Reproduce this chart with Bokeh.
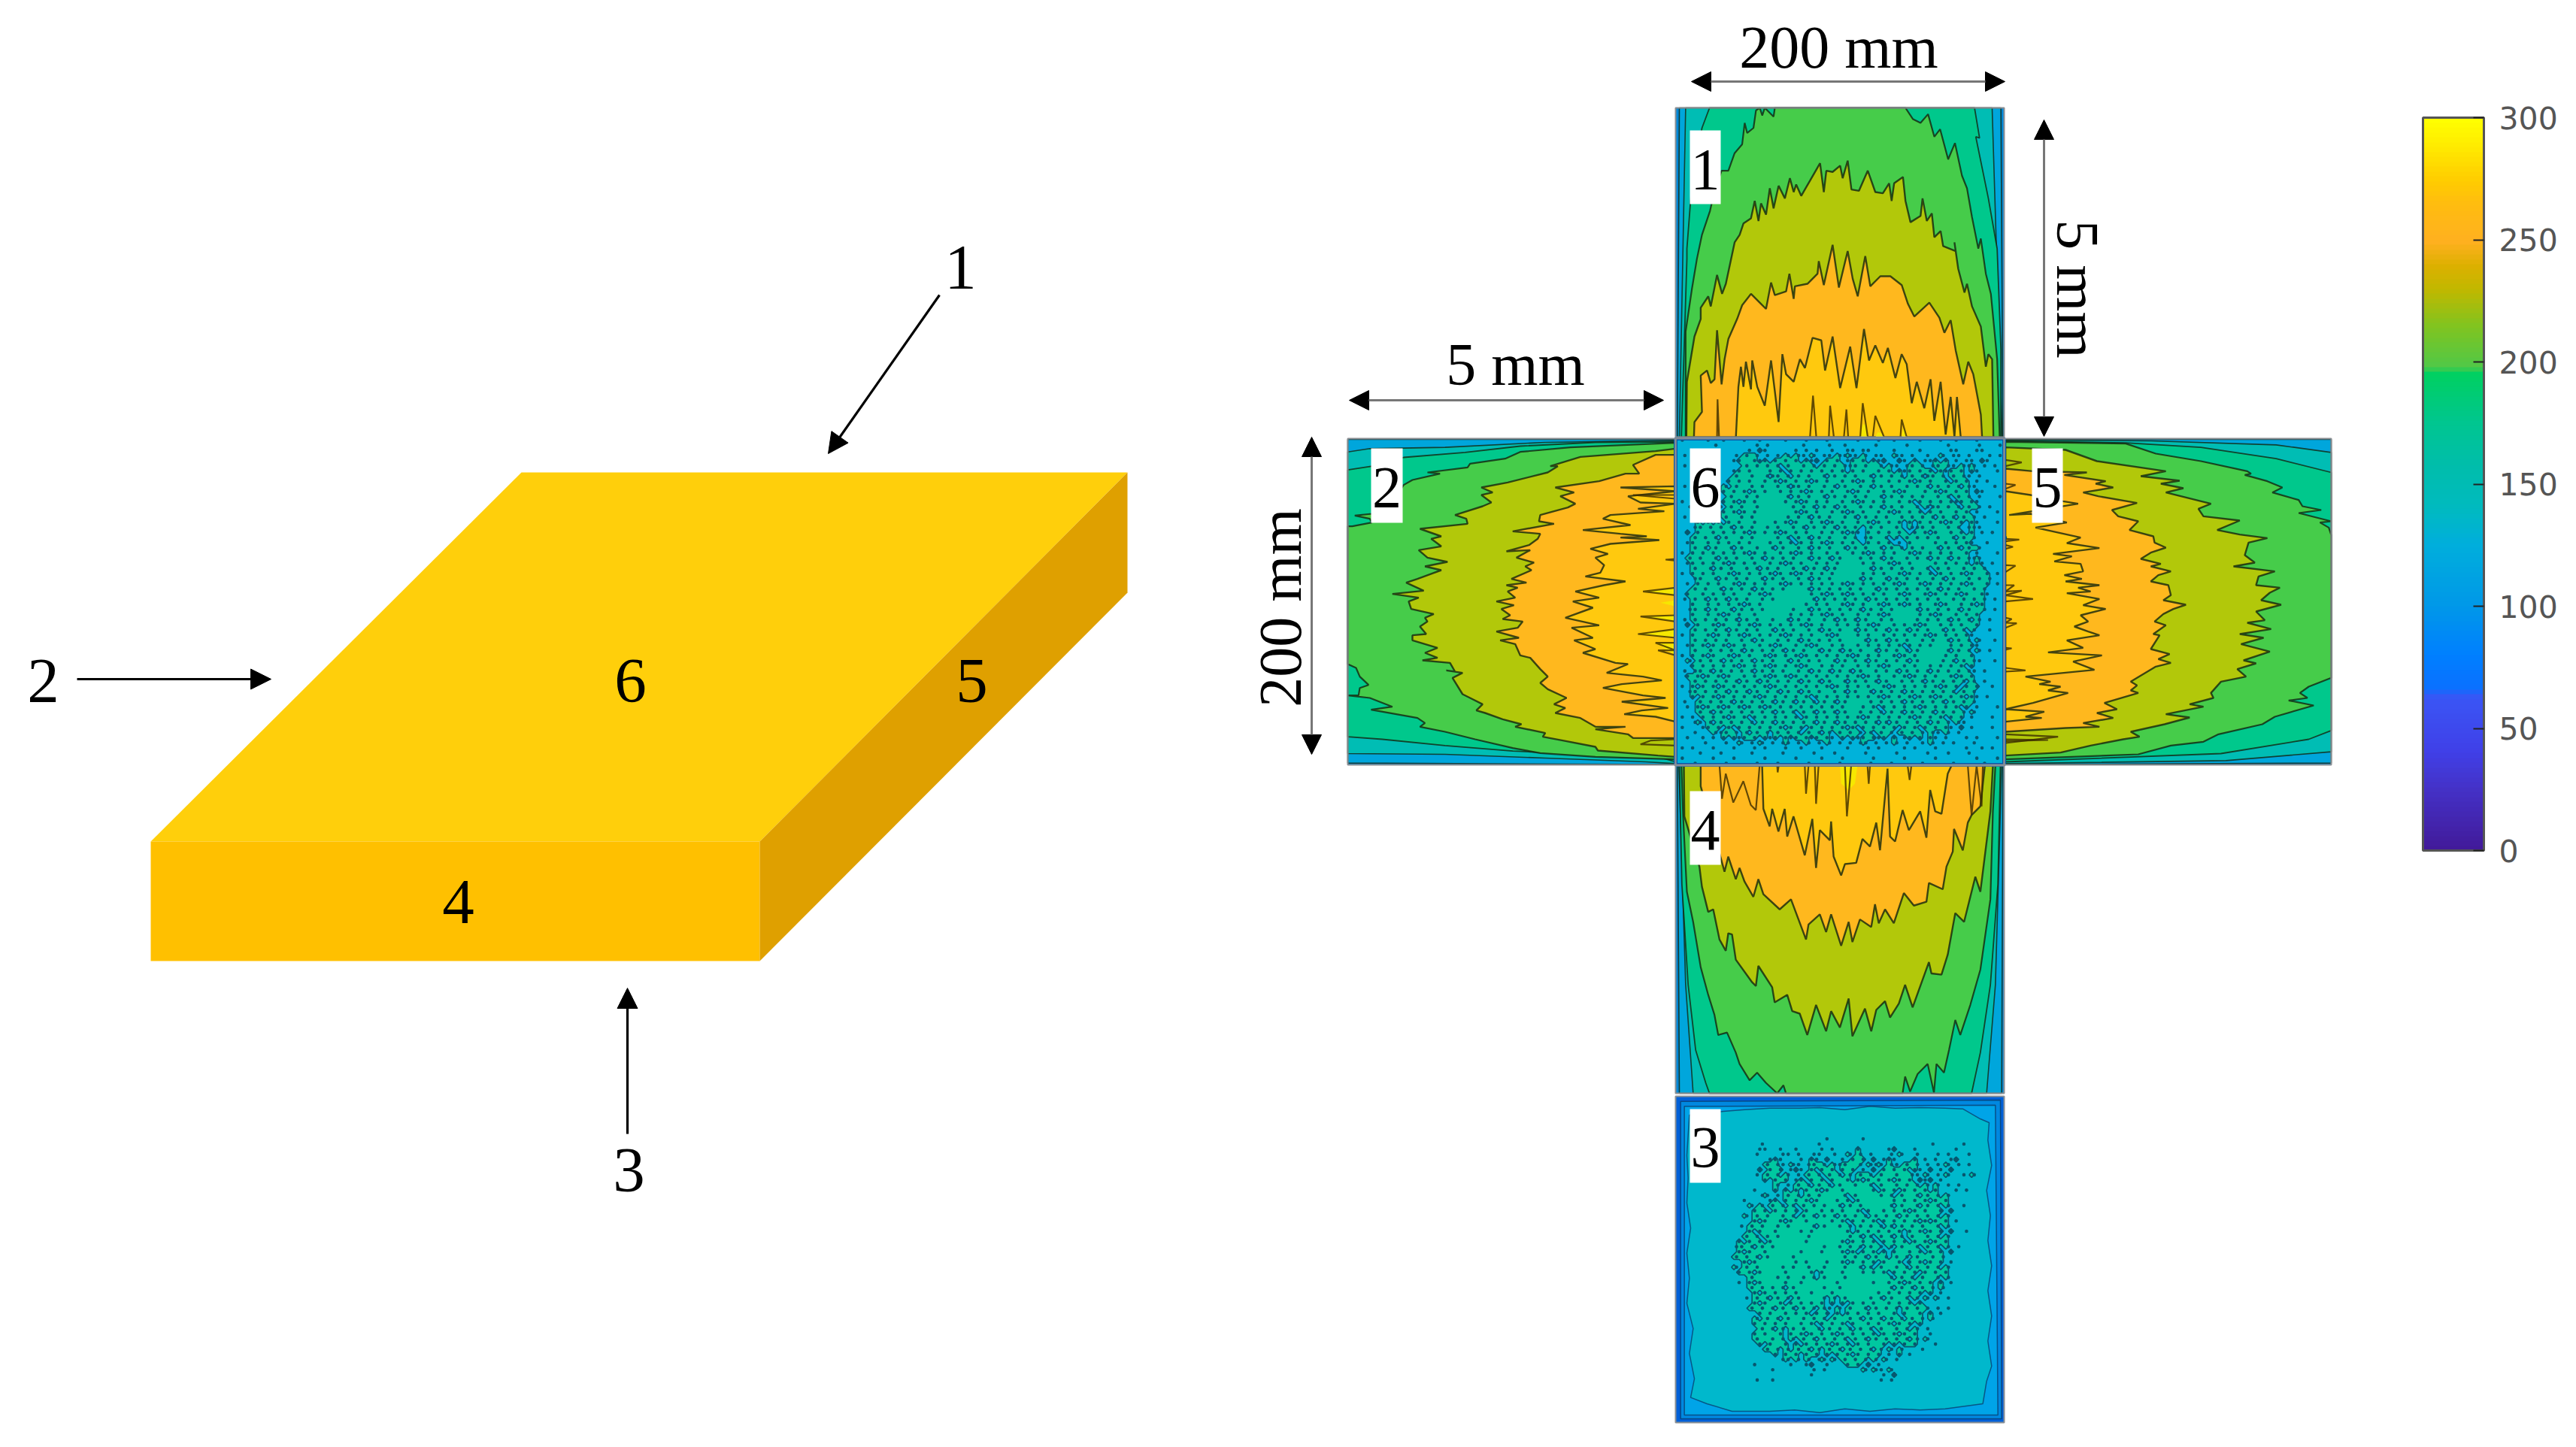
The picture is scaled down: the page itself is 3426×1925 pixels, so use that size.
from bokeh.plotting import figure
from bokeh.models import Range1d, Arrow, NormalHead, ColorBar, LinearColorMapper, FixedTicker
from bokeh.core.properties import value
from bokeh.embed import file_html
from bokeh.resources import INLINE
import numpy as np

# ---------- left block diagram (reference pixels) ----------
top_face = [(693, 628), (1499, 628), (1010, 1119), (200, 1119)]
front_face = [(200, 1119), (1010, 1119), (1010, 1278), (200, 1278)]
side_face = [(1010, 1119), (1499, 628), (1499, 788), (1010, 1278)]
view_arrows = [(1249, 392, 1101, 603), (102, 903, 360, 903), (834, 1508, 834, 1314)]
view_labels = [("1", 1277, 384), ("2", 57, 934), ("3", 836, 1585), ("4", 609, 1228), ("5", 1292, 934), ("6", 838, 934)]

# ---------- panels of the unfolded plate: x0, y0, x1, y1 ----------
panel_boxes = {"1": (2228, 143, 2665, 581), "2": (1792, 583, 2228, 1017), "6": (2228, 583, 2665, 1017),
               "5": (2665, 583, 3100, 1017), "4": (2228, 1018, 2665, 1454), "3": (2228, 1458, 2665, 1892)}
panel_tags = [("1", 2247, 173, 2288, 271, 252), ("2", 1823, 596, 1865, 695, 675), ("6", 2247, 596, 2288, 695, 675),
              ("5", 2702, 596, 2743, 695, 675), ("4", 2247, 1052, 2288, 1150, 1131), ("3", 2247, 1475, 2288, 1573, 1553)]

# temperature band colours
c_edge, c_blue, c_teal, c_sea = "#0088D8", "#00A6DC", "#00BDB4", "#00C88C"
c_green, c_olive, c_orange, c_amber, c_yellow = "#46CC4A", "#B2C80A", "#FFB81E", "#FFC90E", "#F6E800"

# ---------- contours (trace units, with their frame) ----------
frame1 = (85, 40, 1393, 1350)
p1_blue = [(92,1350),(100,40),(1380,40),(1388,1350)]
p1_teal = [(100,1350),(125,40),(1345,40),(1385,1350)]
p1_sea = [(108,1350),(130,640),(130,600),(150,340),(190,120),(220,40),(1275,40),(1295,160),(1280,155),(1330,400),(1365,600),(1380,1000),(1380,1350)]
p1_green = [(125,1350),(125,930),(150,760),(170,640),(190,545),(222,450),(240,370),(268,290),(295,290),(320,220),(350,185),(360,100),(370,140),(395,120),(405,50),(420,40),(430,70),(440,40),(475,75),(480,40),(1000,40),(1030,85),(1060,100),(1090,65),(1115,155),(1138,125),(1170,245),(1197,180),(1225,310),(1245,360),(1265,475),(1290,600),(1300,560),(1320,700),(1340,780),(1365,1040),(1375,1350)]
p1_olive = [(128,1350),(130,1130),(160,950),(185,880),(185,835),(215,790),(225,830),(250,705),(270,780),(285,740),(320,575),(340,545),(355,500),(385,480),(400,410),(415,490),(425,420),(445,465),(460,360),(475,440),(495,350),(520,400),(540,320),(555,375),(565,345),(585,390),(620,330),(660,260),(675,375),(685,290),(710,295),(740,270),(750,320),(770,250),(785,365),(815,370),(850,290),(880,375),(910,380),(935,340),(945,410),(955,340),(990,315),(1000,410),(1020,495),(1060,470),(1068,400),(1085,490),(1105,460),(1115,555),(1140,530),(1150,590),(1200,610),(1195,575),(1210,680),(1235,775),(1245,740),(1265,830),(1300,910),(1320,1070),(1330,1020),(1345,1040),(1350,1350)]
p1_orange = [(158,1350),(160,1290),(190,1250),(185,1105),(210,1085),(225,1135),(240,1120),(250,925),(268,1140),(280,1040),(295,960),(330,880),(350,825),(385,780),(420,815),(445,840),(465,735),(480,785),(525,770),(538,700),(555,800),(560,750),(610,740),(650,700),(655,650),(675,745),(710,585),(735,755),(770,610),(790,720),(810,790),(840,630),(860,750),(900,710),(940,710),(985,745),(1010,820),(1035,870),(1095,815),(1135,875),(1155,935),(1180,885),(1200,1005),(1230,1140),(1250,1050),(1270,1100),(1300,1260),(1305,1350)]
p1_amber = [(325,1350),(335,1150),(345,1070),(355,1150),(365,1050),(385,1160),(390,1045),(410,1150),(440,1225),(465,1045),(495,1290),(510,1020),(525,1100),(555,1130),(580,1040),(600,1075),(630,955),(665,965),(680,1085),(710,950),(740,1155),(780,990),(805,1155),(835,920),(855,1045),(880,985),(910,1055),(930,995),(960,1115),(985,1020),(1005,1060),(1025,1215),(1045,1130),(1075,1235),(1100,1120),(1115,1285),(1140,1130),(1160,1340),(1180,1190),(1195,1350),(1205,1190),(1220,1350)]
p1_spots = [[(820,1350),(830,1300),(845,1300),(850,1350)], [(880,1350),(890,1330),(905,1335),(915,1350)], [(985,1350),(990,1315),(1000,1320),(1005,1350)]]
p1_spikes = [[(250,1350),(252,1200),(258,1350)], [(620,1350),(632,1185),(645,1350)], [(695,1350),(700,1225),(715,1350)], [(755,1350),(765,1240),(772,1350)], [(820,1350),(830,1215),(850,1350)], [(870,1350),(880,1265),(915,1350)], [(980,1350),(985,1280),(1005,1350)]]

frame4 = (25, 28, 1335, 1332)
p4_blue = [(32,28),(40,1332),(1325,1332),(1330,28)]
p4_teal = [(38,28),(65,900),(95,1332),(1265,1332),(1300,900),(1325,28)]
p4_sea = [(40,28),(50,500),(75,900),(105,1160),(145,1290),(160,1332),(1205,1332),(1240,1170),(1280,900),(1310,500),(1320,28)]
p4_green = [(48,28),(55,230),(70,530),(95,650),(125,830),(155,940),(180,1020),(195,1100),(230,1090),(265,1170),(280,1215),(320,1280),(350,1250),(385,1290),(430,1332),(455,1300),(465,1332),(930,1332),(940,1265),(960,1325),(990,1255),(1030,1215),(1055,1330),(1065,1215),(1095,1250),(1115,1160),(1140,1040),(1160,1100),(1200,980),(1240,840),(1280,560),(1290,210),(1300,28)]
p4_olive = [(58,28),(60,230),(120,430),(130,510),(155,610),(175,600),(200,720),(225,765),(235,695),(250,700),(265,800),(330,890),(345,905),(355,825),(410,910),(420,970),(470,940),(490,1005),(520,1015),(550,1100),(585,980),(625,1085),(645,1005),(680,1070),(715,955),(730,1105),(780,995),(805,1085),(825,1000),(860,965),(880,1030),(915,975),(940,900),(970,990),(1035,810),(1045,855),(1085,860),(1110,780),(1130,670),(1140,615),(1175,650),(1220,470),(1240,530),(1280,210),(1290,28)]
p4_orange = [(125,28),(125,110),(205,395),(220,450),(235,390),(265,480),(280,435),(300,490),(335,550),(355,480),(375,540),(440,600),(485,560),(545,720),(555,660),(600,620),(625,690),(645,620),(685,745),(715,650),(730,730),(760,640),(805,670),(820,580),(835,655),(860,600),(895,655),(935,535),(975,585),(1025,570),(1035,495),(1090,520),(1105,430),(1130,370),(1135,280),(1170,365),(1190,255),(1205,225),(1240,190),(1258,28)]
p4_amber = [(370,28),(375,200),(400,270),(410,200),(435,290),(460,200),(470,310),(495,230),(540,385),(570,240),(585,435),(600,285),(640,325),(645,250),(655,390),(685,465),(700,420),(745,415),(770,320),(800,350),(825,255),(840,365),(870,40),(880,310),(900,330),(930,205),(955,285),(1000,210),(1025,315),(1040,125),(1060,210),(1085,220),(1110,60),(1125,28)]
p4_spots = [[(680,28),(685,100),(715,125),(740,100),(750,28)]]
p4_spikes = [[(200,28),(210,160),(225,60),(255,175),(295,90),(325,185),(345,205),(360,28)], [(1190,28),(1205,225),(1225,28),(1245,190),(1250,28)], [(540,28),(545,140),(555,28)], [(580,28),(585,180),(595,28)], [(700,28),(708,230),(725,28)], [(790,28),(795,100),(800,28)], [(950,28),(958,85),(965,28)], [(430,28),(432,55),(436,28)]]

frame2 = (12, 15, 1320, 1317)
p2_blue = [(1320,18),(12,18),(12,1310),(1320,1316)]
p2_teal = [(1320,22),(800,30),(400,50),(100,55),(12,68),(12,1272),(400,1275),(800,1290),(1200,1305),(1320,1312)]
p2_sea = [(1320,28),(1000,30),(700,45),(480,70),(235,90),(110,125),(12,140),(12,1205),(150,1215),(400,1240),(670,1262),(880,1272),(1250,1285),(1320,1305)]
p2_green = [(1320,32),(900,50),(700,68),(640,95),(500,115),(490,130),(330,150),(380,155),(270,180),(235,200),(170,300),(108,315),(40,322),(100,335),(108,350),(30,365),(12,365),(12,915),(45,930),(60,965),(95,998),(60,1010),(55,1040),(12,1040),(100,1050),(190,1085),(105,1097),(290,1130),(320,1150),(300,1165),(400,1185),(520,1215),(670,1250),(780,1270),(1000,1285),(1320,1295)]
p2_olive = [(1320,55),(1240,65),(940,88),(820,125),(850,125),(810,150),(650,190),(545,210),(590,230),(545,240),(585,270),(550,285),(440,320),(485,335),(490,355),(300,375),(385,405),(345,415),(385,445),(295,460),(330,490),(410,507),(320,525),(385,540),(290,575),(245,590),(315,622),(190,635),(295,650),(255,665),(265,695),(355,715),(320,730),(330,745),(300,765),(325,795),(270,800),(270,820),(370,850),(320,870),(370,890),(310,900),(420,910),(440,945),(405,940),(470,950),(430,970),(470,1035),(500,1050),(550,1075),(525,1100),(560,1110),(630,1135),(705,1155),(680,1165),(800,1190),(790,1205),(870,1220),(1000,1245),(1010,1260),(1250,1280),(1320,1285)]
p2_orange = [(1320,80),(1240,80),(1150,120),(1175,155),(1120,155),(1015,185),(840,210),(915,230),(860,245),(920,275),(890,290),(780,320),(775,345),(835,355),(670,385),(780,395),(770,415),(735,440),(645,465),(740,460),(685,490),(755,510),(720,525),(745,540),(665,575),(725,590),(645,600),(690,610),(650,625),(680,650),(605,665),(675,680),(625,695),(660,720),(630,735),(710,745),(690,770),(605,785),(695,810),(620,820),(680,835),(700,880),(740,890),(780,935),(810,965),(780,990),(810,1015),(885,1050),(835,1075),(880,1090),(840,1110),(940,1130),(1000,1165),(1120,1165),(1000,1175),(1130,1195),(1150,1210),(1320,1210)]
p2_amber = [(1320,205),(1100,210),(1320,225),(1130,245),(1180,270),(1320,275),(1170,295),(1275,305),(1060,320),(1030,335),(1140,360),(950,380),(1100,395),(1205,405),(1100,410),(1255,420),(1060,435),(980,455),(1050,475),(1000,490),(1035,520),(1020,550),(960,565),(1120,585),(1035,600),(920,625),(1015,650),(910,665),(990,690),(880,730),(1015,760),(905,770),(990,810),(915,820),(1000,855),(950,870),(1080,910),(1130,915),(1045,950),(1190,965),(1265,980),(1105,995),(1030,1010),(1190,1040),(1280,1050),(1105,1065),(1290,1090),(1185,1100),(1115,1115),(1240,1125),(1320,1145)]
p2_spots = [[(1320,610),(1190,625),(1320,640)], [(1320,660),(1260,670),(1320,685)], [(1320,720),(1180,725),(1320,745)], [(1320,775),(1170,795),(1320,810)], [(1320,830),(1240,830),(1320,880)]]
p2_spikes = [[(1320,610),(1190,625),(1320,640)], [(1320,720),(1180,725),(1320,745)], [(1320,775),(1170,795),(1320,810)], [(1320,830),(1240,830),(1320,860),(1250,860),(1320,880)], [(1320,495),(1280,498),(1320,502)], [(1320,240),(1150,240),(1320,255)], [(1320,1215),(1220,1220),(1180,1235),(1320,1240)]]

frame5 = (15, 15, 1320, 1317)
p5_blue = [(20,18),(1320,18),(1320,1310),(20,1316)]
p5_teal = [(20,20),(600,24),(1100,40),(1320,70),(1320,1265),(900,1300),(20,1312)]
p5_sea = [(20,24),(500,32),(800,50),(1100,95),(1320,150),(1320,1180),(1230,1215),(880,1272),(20,1305)]
p5_green = [(20,28),(500,35),(620,75),(800,105),(985,145),(1000,155),(975,160),(1065,185),(1125,210),(1085,230),(1190,260),(1205,285),(1280,300),(1190,312),(1320,345),(1275,350),(1310,370),(1320,400),(1320,970),(1230,1005),(1195,1030),(1225,1050),(1150,1060),(1250,1080),(1095,1125),(1045,1155),(870,1195),(810,1225),(680,1240),(550,1275),(20,1295)]
p5_olive = [(20,50),(260,60),(385,105),(660,145),(560,165),(715,183),(640,195),(730,213),(660,230),(840,275),(790,295),(810,325),(955,342),(865,380),(955,398),(1065,412),(990,430),(975,480),(1015,510),(930,525),(1095,545),(1030,565),(1020,600),(1115,610),(1075,630),(1040,660),(1120,678),(1020,705),(1055,740),(985,750),(1080,775),(955,795),(1050,810),(960,835),(1075,865),(970,900),(1020,912),(945,935),(980,965),(880,985),(840,1030),(850,1050),(755,1075),(810,1085),(660,1115),(755,1128),(655,1155),(520,1185),(555,1205),(490,1215),(360,1240),(240,1268),(20,1280)]
p5_orange = [(20,135),(130,145),(345,150),(255,160),(420,185),(380,195),(450,210),(330,230),(390,245),(545,272),(445,300),(470,325),(550,345),(515,380),(610,405),(615,430),(660,450),(600,470),(560,495),(640,515),(600,525),(680,545),(630,560),(600,585),(670,600),(680,640),(650,660),(740,678),(690,695),(650,715),(615,745),(660,760),(610,795),(635,800),(600,855),(675,875),(630,895),(680,910),(620,925),(520,985),(545,1000),(520,1020),(550,1030),(415,1070),(465,1095),(385,1110),(450,1130),(330,1150),(395,1165),(260,1170),(20,1185)]
p5_amber = [(20,225),(120,240),(250,265),(310,275),(35,320),(120,315),(265,350),(140,370),(320,410),(265,432),(395,452),(210,475),(285,485),(215,505),(320,515),(330,545),(255,560),(325,575),(260,585),(395,600),(310,610),(360,625),(265,632),(395,655),(330,680),(420,695),(320,720),(350,745),(295,765),(350,785),(395,800),(265,820),(330,850),(190,868),(405,880),(290,905),(375,938),(100,965),(200,985),(155,995),(240,1005),(190,1020),(270,1030),(130,1070),(20,1095),(175,1105),(100,1125),(165,1130),(20,1145)]
p5_spikes = [[(20,100),(85,110),(20,125)], [(20,1195),(230,1205),(20,1230)], [(20,1215),(190,1218),(20,1222)], [(20,415),(75,418),(20,425)], [(20,440),(50,447),(20,455)], [(20,520),(60,522),(20,548)], [(20,600),(55,600),(20,625),(85,622),(20,640),(130,655),(20,665)], [(20,730),(45,735),(20,750),(65,752),(20,770)], [(20,850),(45,852),(20,858)], [(20,930),(100,940),(20,945)], [(20,195),(60,200),(20,215)]]

frame3 = (25, 25, 1335, 1325)
p3_ring = [(45,45),(1320,40),(1325,1310),(45,1310)]
p3_ring2 = [(60,65),(1300,60),(1310,1295),(60,1295)]
p3_inner = [(215,85),(300,78),(400,72),(520,72),(600,70),(700,78),(800,65),(900,72),(1000,70),(1100,72),(1170,75),(1240,115),(1275,130),(1270,200),(1285,300),(1265,400),(1280,500),(1270,600),(1285,700),(1270,800),(1285,900),(1270,1000),(1285,1100),(1265,1160),(1250,1250),(1100,1270),(1000,1275),(900,1270),(800,1280),(700,1270),(600,1285),(500,1275),(400,1280),(250,1280),(150,1250),(85,1225),(100,1150),(80,1050),(95,950),(70,850),(80,750),(70,650),(85,550),(70,450),(75,350),(70,260),(80,100)]

# speckle of faces 6 and 3, hand-estimated: . cool cell, g warm cell, # dark speck in warm, o dark speck in cool
grid6 = [
".o....o..o...o..o....o...o...o.....o...o..o....o...o..o...o.....",
".......o.......o.o......o....o..o.....o.....o.......o.....o...o.",
"...o..........o.#o.....o.o.o..o..oo.oo....o....o.....oo...oo....",
".o.........o.#g#.o.o.#.#o.#.oo.#o#o.#.oo..#o.o..o..#.oo.o...o.o.",
"...........o#gg#o#.#g#g#.#o#.#g#.o#g#.#o#..#o.#.oo#.#.o.oo.#o...",
".o...........#g#g#g#.#gg#g#.#g#g#o#g#gg#.#o.o#g#.o#g#o.#o#.o.o..",
"...........o#g#ggg#g#.#g#g#g#g#g#.#g#gg#g#.#o#g#g#.#o#g#.#o...o.",
"...o.......#gg#gg#o#g#.#g#gg#.#g#g#gg#.#g#g#.#g#o#g#.#g#o.o.....",
"..........#g#g#gg#g#.#g#g#.#g#gg#g#.#g#gg#g#g#.#g#gg#.#g#.o.o...",
".o.......#.#gg#g#gg#g#o#g#gg#g#.#gg#g#.#g#gg#g#g#.#g#g#.#o...o..",
"...o.....#g#g#.#g#gg#g#g#.#g#g#gg#.#g#gg#g#.#ggg#g#.#g#g#.#o....",
"..........#gg#g#ggggg#.#g#gg#.#g#g#g#gg#.#g#g#g#gg#g#.#g#.o...o.",
".o......o#g#.#g#ggggg#g#.#g#g#gg#g#.#g#g#gg#g#.#g#g#g#o#g#o.....",
"..o.....#.#g#gg#gggggg#g#g#.#g#.#gg#g#g#.#g#gg#.#o#g#g#.#g#.o...",
"........o#g#.#g#ggggggg#.#g#gg#g#.#g#gg#g#.#g#g#.#g#gg#g#.o...o.",
".o.o...o.#gg#g#gggggg#g#g#.#g#gg#g#.#g#g#gg#g#g#g#.#g#.#g#.o....",
"....#.#.#.#g#gg#ggg#g#.#gg#g#.#g#gg#g#.#g#g#.#.#g#g#.#g#.#o...o.",
"...o#g#g#g#.#g#gg#g#gg#g#.#g#g#.#g#g.#g#gg#g.#o#g#gg#g#.o#o.....",
"..#.#gg#g#g#g#.#g#g#.#g#g#gg#g#g#.#o.#g#g#g#g.#g#.#gg#g#.#.o.o..",
"...#g#g#.#gg#g#gggg#g#.#g#.#g#gg#g#.o#gg#.#.#g#g#g#gg#.#g#.....o",
"..o#gg#g#g#g#g#ggg#g#g#.#g#g#.#g#g#g.#g#g#.o.#gggg#g#g#g#o..o...",
"...#g#.#gg#.#gg#gg#.#gg#g#.#g#gg#.#g#gg#.#g#.#g#gg#.#g#.#g#.....",
".o.#g#g#g#g#g#.#g#gg#g#.#g#gg#g#gg#g#.#g#g#gg#.#g#g#g#gg#.o...o.",
"..#g#gg#.#g#gg#g#.#g#g#gg#.#g#.#ggg#g#g#.#gg#g#g#.#g#.#g#o#.....",
"..o#g#g#g#.#g#g#gg#g#.#g#gg#g#g#gggg#g#gg#.#g#gggg#g#g#g#.#o.o..",
"...#gg#.#g#gg#g#.#g#gg#g#.#g#.#gggggg#.#g#g#g#gg#.#g#gg#g#g#....",
".o.#g#g#gg#.#g#g#g#.#g#.#g#g#g#ggggg#g#g#gg#.#g#g#.#g#g#.#gg#.o.",
"...o#gg#.#g#g#gg#.#g#gg#g#.#g#ggggg#.#gg#.#g#g#gg#g#.#gg#g#g#...",
"..o.#g#g#gg#.#g#g#gg#.#g#g#g#g#g#.#g#g#g#g#.#gg#.#g#g#g#.#gg#.o.",
"...#g#gg#.#g#g#.#g#g#gggg#.#g#g#g#g#gg#.#g#g#g#g#g#.#g#gg#g#....",
"..#gg#g#g#g#gg#g#.#ggggggg#g#.#g#.#g#g#g#gg#.#gg#.#g#g#.#gg#o...",
".o.#g#.#g#.#g#gg#g#ggggggg#.#g#g#g#g#.#g#g#g#g#g#g#gg#g#g#g#.o..",
"...#gg#g#g#g#.#g#gggggggg#g#g#gg#.#g#gg#.#g#.#g#gg#.#gg#g#.#....",
"..o#g#.#gg#.#g#g#ggggg#gg#.#g#g#g#g#.#g#g#gggg#.#g#g#g#.#gg#.o..",
"...#gg#g#.#g#gg#gggggg#g#g#g#.#g#gg#g#g#.#ggggg#g#.#gg#g#g#.....",
".o.#g#g#g#g#.#g#gg#gg#.#g#gg#g#.#g#.#gg#g#gggg#g#g#g#.#g#.#.o...",
"..#.#gg#.#gg#g#.#g#g#g#g#.#g#gg#g#g#g#.#gg#g#g#.#gg#g#g#gg#.....",
"...#g#g#g#.#g#g#gg#.#g#gg#g#.#g#gg#.#g#g#.#g#.#g#gg#.#g#.#..o...",
".o.#gg#.#g#g#.#g#g#g#.#g#g#gg#.#ggg#g#gg#g#g#g#g#.#g#g#g#o......",
"...#g#g#g#gg#g#.#gg#g#g#.#g#g#g#gggg#.#g#.#g#gg#g#gg#.#g#.#..o..",
"..o#g#.#g#.#g#gg#g#.#gg#g#.#gg#g#gg#g#g#g#g#.#g#g#ggg#g#g#o.....",
"...#gg#g#g#g#.#g#g#g#.#g#gg#.#g#.#g#gg#.#g#g#.#ggggg#.#g#.#.o...",
".o.#g#.#gg#.#g#gg#.#g#g#.#g#g#g#g#.#g#g#gg#.#g#ggggg#g#gg#......",
"..#.#g#g#.#g#g#.#g#gg#.#g#g#gg#.#g#g#.#g#g#g#.#gggg#g#.#g#o..o..",
"...#g#g#g#g#.#g#g#.#g#g#.#gg#g#g#gg#g#g#.#gg#g#gg#g#g#g#.#......",
".o.o#g#.#g#g#g#.#g#g#gg#g#.#g#.#g#.#gg#g#g#.#g#g#.#g#g#g#o.o....",
"..#g#.#g#.#gg#g#g#.#g#.#g#g#g#g#g#g#.#g#gg#g#.#g#g#gg#.#g#......",
"...#g#g#g#g#.#g#.#g#g#g#.#g#.#gg#.#g#g#.#gg#g#g#.#g#g#g#.#.o....",
".o.#.#g#.#g#g#g#g#.#g#g#g#g#g#.#g#g#g#gg#.#g#g#g#g#.#g#.#g#..o..",
"..o#g#g#g#.#g#.#g#g#.#g#.#g#gg#g#.#gg#.#g#g#.#g#g#g#g#.#g#......",
"...#.#g#.#g#g#g#.#g#g#g#g#.#g#g#g#g#g#g#.#g#g#.#g#.#g#g#.#o.o...",
".o..#g#g#g#.#g#g#g#.#g#.#g#.#g#.#gggg#g#g#g#.#g#g#g#.#g#g#......",
"..o.#.#g#.#g#.#g#.#g#g#g#g#g#g#g#ggg#g#.#g#g#g#.#g#g#g#.#.o...o.",
"....#g#.#g#g#g#g#g#.#g#.#g#.#g#.#gg#g#g#.#g#.#g#g#.#g#g#.#......",
".o.o.#g#g#.#g#.#g#g#g#g#.#g#g#g#g#g#.#g#g#g#g#.#g#g#.#g#.o...o..",
"...o#.#.#g#g#g#.#g#.#g#g#g#.#g#.#g#g#g#.#.#g#g#g#.#g#.#o........",
".o...o#g#.#.#g#g#g#g#.#g#.#g#g#g#.#.#g#g#g#.#g#.#g#g#o.#.o...o..",
"...o...#o#g#.#.#g#.#g#g#.#g#.#.#g#g#.#.#g#.#g#g#.#o.#.o.........",
"..o..o.o.#.#o#g#.#o#.#o#g#o#g#o.#.#o#g#o#.#.o#.#.#o.o...o.o...o.",
".....o...o..#.o.#.o.o#.o.#.o.#.o.o.o#.o.o.#.o..o.#.o.o...o......",
".o.o...o...o...o.o...o..o...o....o...o.o....o.o...o.....o..o.o..",
"....o...o.....o.....o.....o...o.....o.....o.....o...o...o.......",
".o.....o...o.....o.....o....o...o.....o.....o.....o.......o...o.",
"...o.....o.....o...o.....o.....o.....o...o.....o.....o.....o....",
]

grid3_shift_rows, grid3_shift_cols = 8, 5
grid3 = [
"........................o......o.........................",
"...........o..........o.....................o.....o......",
"...........oo..o..o....o.o....#.....o#...o.......o.......",
"..........o....oo.o..oo..o..#.#.o...o.#..o...o.o...o.....",
".............o#o...o.#o.#..o.#g#.#.o#o...#.o.o..o#.......",
"............#g#o.#o.o#g#.#o#gg#.#o#.#o.#g#.o.o.#.o.o.....",
"...........#.#g#.o#o.#.#g#.#g#.o.#.#g#g#.#o.#.o.#........",
"..........o.#g#.#.o.#g#.#g#.#.#g#.#gg#gg#o.#.o.#..o.#....",
"............#.#g#.o#.#g#.#gg#.#.#g#g#.#g#.#o#.o.........",
"..............#.o.#g#.#g#.#gg#gg#.#gg#g#g#.#.#.o.o.......",
"..........o...#.#.#.#g#.#gg#ggggg#.#g#.#g#g#.#...o.o.....",
"...........o#.o.#g#.#g#gggg#.#gggg#g#.#gg#.#g#.#.........",
"........o....o#.#g#g#.#ggg#g#.#gggggg#g#g#g#.#g#.........",
".........#.#.#g#.#.#g#g#gg#.#g#ggggg#.#gg#.#g#.#..o......",
"..........#g#.#g#g#.#gg#g#g#gg#.#gg#g#g#.#g#gg#.#........",
"........#.#g#gg#g#.#g#.#g#.#g#g#.#g#g#.#g#g#g#.#.........",
"..........#.#gg#.#gg#gggg#g#.#g#g#.#g#g#g#.#.#g#.o.......",
".......o.#g#gg#g#gggg#.#gg#g#.#g#g#.#.#g#g#gg#.#.........",
".........#.#gg#gggg#g#gggggg#.#g#g#g#g#.#g#.#g#.#..o.....",
"........#g#.#g#ggggg#ggggggg#g#.#.#g#.#.#gg#g#.#.........",
".......#.#g#.#gggggg#gggggg#.#g#g#.#g#g#.#g#.#g#.........",
"......o#g#.#g#ggggggggg#gg#g#g#.#g#.#.#gg#.#g#.#.o.......",
".......#.#gg#gggggg#ggg#ggg#.#.#g#.#.#gg#g#.#g#.#........",
"......#g#g#.#gggg#ggggggggg#g#g#.#g#.#g#.#gg#g#..........",
"........#.#ggggggg#g#ggg#gg#.#g#g#.#gg#.#g#.#g#.o........",
"......#.#g#gggg#g#gg#gg#ggg#gg#.#.#gg#g#.#g#g#.#.........",
".......#g#.#gggg#gggg#.#ggg#ggg#g#g#.#g#g#.#g#g#.........",
".........#gggg#g#gg#g#.#ggg#gggggggg#.#g#.#gg#.#.........",
".......o.#.#gggg#gg#gggggg#gggggg#gg#g#.#g#g#.#.o........",
".........#g#g#g#.#ggggg#gg#ggggggggg#.#g#.#g#.#..........",
"..........#.#g#g#g#gg#ggg#gggggggg#g#g#g#g#.#.o..........",
"........o.#g#.#g#.#gggg#.#.#gggg#g#.#gg#.#.#.#.o.........",
"..........#.#gg#.#g#g#g#.#.#.#g#g#gg#g#g#.#..............",
".........#g#g#.#g#.#g#.#o.#.#gg#.#g#g#.#g#g#.o.o.........",
"...........#g#gg#g#g#.#g#.#.#g#g#g#gg#.#gg#.#.o..........",
"..........#.#g#.#gg#g#g#.#gg#g#.#g#.#g#.#g#.#............",
"..........#g#g#g#gg#g#.#g#g#.#gg#g#g#.#g#.#..............",
"...........#g#.#.#g#gg#.#g#g#.#g#.#gg#g#.#.o.............",
"..........#g#gg#.#g#.#g#g#.#g#g#g#.#g#.#g#..o............",
"..........#gg#g#.#.#g#.#g#g#.#g#.#g#g#g#.#.#.............",
"...........#.#gg#.#.#g#g#.#g#.#g#gg#.#.#g#...o...........",
"............#g#.#.#g#.#.#g#.#g#g#.#.#.#...o..............",
"..............#.#g#.#g#.#.#g#.#g#g#.o.#.o.................",
"...............o#.#.#.o#.#.#g#g#.#.#.o....................",
"..........o......o..o#..o...#g#.#.o.......................",
".............o.......o.o.......#.#o.#.....................",
".....................o.............o.#....................",
"..........o..o....................o.o.....................",
]

# colour bar: colour stops (value, colour) and its tick values
bar_stop_values = [0, 25, 40, 62, 66, 80, 100, 125, 140, 160, 175, 196, 198, 215, 230, 240, 250, 265, 275, 290, 300]
bar_stop_colors = ["#421A9A","#4432C8","#4040E8","#3A55F5","#0A70FF","#0080FF","#0098E8","#00AEDC","#00BAC0","#00BEA8",
                   "#00C690","#00D060","#50C848","#80C420","#C0B800","#DCB000","#FFB020","#FFBC10","#FFCC00","#FFEC00","#FFFF00"]
bar_ticks = [0, 50, 100, 150, 200, 250, 300]

# dimension annotations: text, x, y, rotation in turns-of-90-degrees
dim_texts = [("200 mm", 2445, 90, 0), ("5 mm", 2015, 512, 0), ("200 mm", 1730, 808, 1), ("5 mm", 2735, 384, -1)]
dim_arrows = [(2249, 108, 2666, 108), (1794, 532, 2212, 532), (1744, 581, 1744, 1003), (2718, 159, 2718, 580)]

p = figure(width=3410, height=1909, x_range=Range1d(0, 3410), y_range=Range1d(1909, 0),
           output_backend="svg", toolbar_location=None, min_border=0)
p.axis.visible = False
p.grid.visible = False
p.outline_line_color = None
p.background_fill_color = "white"
p.border_fill_color = "white"

BASE_SHIFT = 0.34  # the text glyph sits this many em below its anchor

def poly(pts, color):
    xs, ys = zip(*pts)
    p.patch(list(xs), list(ys), fill_color=color, line_color=None)

poly(top_face, "#FFCF0B")
poly(front_face, "#FFC000")
poly(side_face, "#DFA000")

for x0, y0, x1, y1 in view_arrows:
    p.add_layout(Arrow(end=NormalHead(size=27, fill_color="black", line_color="black", line_width=1),
                       x_start=x0, y_start=y0, x_end=x1, y_end=y1, line_color="black", line_width=3.2))
for t, x, y in view_labels:
    p.text([x], [y - BASE_SHIFT * 85], text=[t], text_font=value("Liberation Serif"), text_font_size="85px",
           text_color="black", text_align="center", text_baseline="alphabetic")

def mapper(frame, box):
    fx0, fy0, fx1, fy1 = frame
    bx0, by0, bx1, by1 = box
    def f(pts):
        a = np.array(pts, float)
        return (bx0 + (a[:, 0] - fx0) / (fx1 - fx0) * (bx1 - bx0),
                by0 + (a[:, 1] - fy0) / (fy1 - fy0) * (by1 - by0))
    return f

def contour_panel(name, frame, layers, spots=(), spikes=()):
    box = panel_boxes[name]
    f = mapper(frame, box)
    p.quad(left=[box[0]], right=[box[2]], top=[box[1]], bottom=[box[3]], fill_color=c_edge, line_color=None)
    for pts, color, lw in layers:
        x, y = f(pts)
        p.patch(x, y, fill_color=color, line_color="#14240F", line_alpha=0.8, line_width=lw)
    for pts in spots:
        x, y = f(pts)
        p.patch(x, y, fill_color=c_yellow, line_color=None)
    for pts in spikes:
        x, y = f(pts)
        p.line(x, y, line_color="#3A2A00", line_alpha=0.8, line_width=2.2)

def stack(b, t, s, g, ol, or_, am):
    return [(b, c_blue, 1.6), (t, c_teal, 1.6), (s, c_sea, 1.8), (g, c_green, 2.2), (ol, c_olive, 2.4), (or_, c_orange, 2.4), (am, c_amber, 2.4)]

contour_panel("1", frame1, stack(p1_blue, p1_teal, p1_sea, p1_green, p1_olive, p1_orange, p1_amber), p1_spots, p1_spikes)
contour_panel("4", frame4, stack(p4_blue, p4_teal, p4_sea, p4_green, p4_olive, p4_orange, p4_amber), p4_spots, p4_spikes)
contour_panel("2", frame2, stack(p2_blue, p2_teal, p2_sea, p2_green, p2_olive, p2_orange, p2_amber), p2_spots, p2_spikes)
contour_panel("5", frame5, stack(p5_blue, p5_teal, p5_sea, p5_green, p5_olive, p5_orange, p5_amber), (), p5_spikes)

def speckle(name, grid, warm, dark, shift_rows=0, shift_cols=0):
    """Warm/cool cells are contoured; the hand-estimated specks sit on top in a staggered layout."""
    box = panel_boxes[name]
    n = 64
    z = np.zeros((n, n))
    dx, dy = [], []
    w, h = (box[2] - box[0] - 4) / (n - 1), (box[3] - box[1] - 4) / (n - 1)
    for r, row in enumerate(grid):
        for c, ch in enumerate(row):
            rr, cc = r + shift_rows, c + shift_cols
            if rr < n and cc < n:
                z[rr, cc] = 1.0 if ch in "g#" else 0.0
                if ch in "#o":
                    dx.append(box[0] + 2 + (cc + 0.5 * (rr % 2)) * w)
                    dy.append(box[1] + 2 + rr * h)
    xs = np.linspace(box[0] + 2, box[2] - 2, n)
    ys = np.linspace(box[1] + 2, box[3] - 2, n)
    p.contour(xs, ys, z, levels=[0.5, 1.5], fill_color=[warm], line_color=dark, line_width=1.7)
    p.scatter(dx, dy, size=4.6, marker="circle", fill_color=dark, line_color=None)

# face 6
b6 = panel_boxes["6"]
p.quad(left=[b6[0]], right=[b6[2]], top=[b6[1]], bottom=[b6[3]], fill_color="#00B2DA", line_color=None)
speckle("6", grid6, "#00C2A0", "#08566E")
p.quad(left=[b6[0]], right=[b6[2]], top=[b6[1]], bottom=[b6[3]], fill_color=None, line_color="#0A58A8", line_width=5)

# face 3
b3 = panel_boxes["3"]
f3 = mapper(frame3, b3)
p.quad(left=[b3[0]], right=[b3[2]], top=[b3[1]], bottom=[b3[3]], fill_color="#0060D8", line_color=None)
for pts, col in [(p3_ring, "#0088E0"), (p3_ring2, "#00A4E8"), (p3_inner, "#00B8CC")]:
    x, y = f3(pts)
    p.patch(x, y, fill_color=col, line_color="#0A3A6A", line_alpha=0.75, line_width=1.5)
speckle("3", grid3, "#00C8A0", "#08566E", grid3_shift_rows, grid3_shift_cols)

# thin grey panel frames
for name, box in panel_boxes.items():
    p.quad(left=[box[0]], right=[box[2]], top=[box[1]], bottom=[box[3]], fill_color=None, line_color="#8A8F94", line_width=2)

# white tags
for t, x0, y0, x1, y1, base in panel_tags:
    p.quad(left=[x0], right=[x1], top=[y0], bottom=[y1], fill_color="white", line_color=None)
    p.text([(x0 + x1) / 2], [base - BASE_SHIFT * 78], text=[t], text_font=value("Liberation Serif"), text_font_size="78px",
           text_color="black", text_align="center", text_baseline="alphabetic")

# dimensions
for x0, y0, x1, y1 in dim_arrows:
    p.add_layout(Arrow(start=NormalHead(size=26, fill_color="black", line_color="black", line_width=1),
                       end=NormalHead(size=26, fill_color="black", line_color="black", line_width=1),
                       x_start=x0, y_start=y0, x_end=x1, y_end=y1, line_color="#777777", line_width=3))
for t, x, y, rot in dim_texts:
    dy = BASE_SHIFT * 80
    xx = x - dy * rot
    yy = y - dy if rot == 0 else y
    p.text([xx], [yy], text=[t], angle=[rot * np.pi / 2], text_font=value("Liberation Serif"), text_font_size="80px",
           text_color="black", text_align="center", text_baseline="alphabetic")

# colour bar palette built from the stops
def rgb(h):
    return [int(h[i:i + 2], 16) for i in (1, 3, 5)]
levels = np.linspace(0, 300, 150)
channels = np.array([rgb(c) for c in bar_stop_colors], float)
palette = ["#%02X%02X%02X" % tuple(int(round(np.interp(v, bar_stop_values, channels[:, k]))) for k in range(3)) for v in levels]
mapper_c = LinearColorMapper(palette=palette, low=0, high=300)
cb = ColorBar(color_mapper=mapper_c, location=(3222, 1909 - 1131), width=81, height=975,
              ticker=FixedTicker(ticks=bar_ticks), major_label_text_font="DejaVu Sans",
              major_label_text_font_size="41px", major_label_text_color="#555555",
              major_tick_in=14, major_tick_out=0, major_tick_line_color="#222222", major_tick_line_width=2,
              minor_tick_line_color=None, bar_line_color="#555555", bar_line_width=3, label_standoff=20,
              background_fill_alpha=0, border_line_color=None, padding=0, margin=0)
p.add_layout(cb, "center")

open("out.html", "w").write(file_html(p, INLINE))
